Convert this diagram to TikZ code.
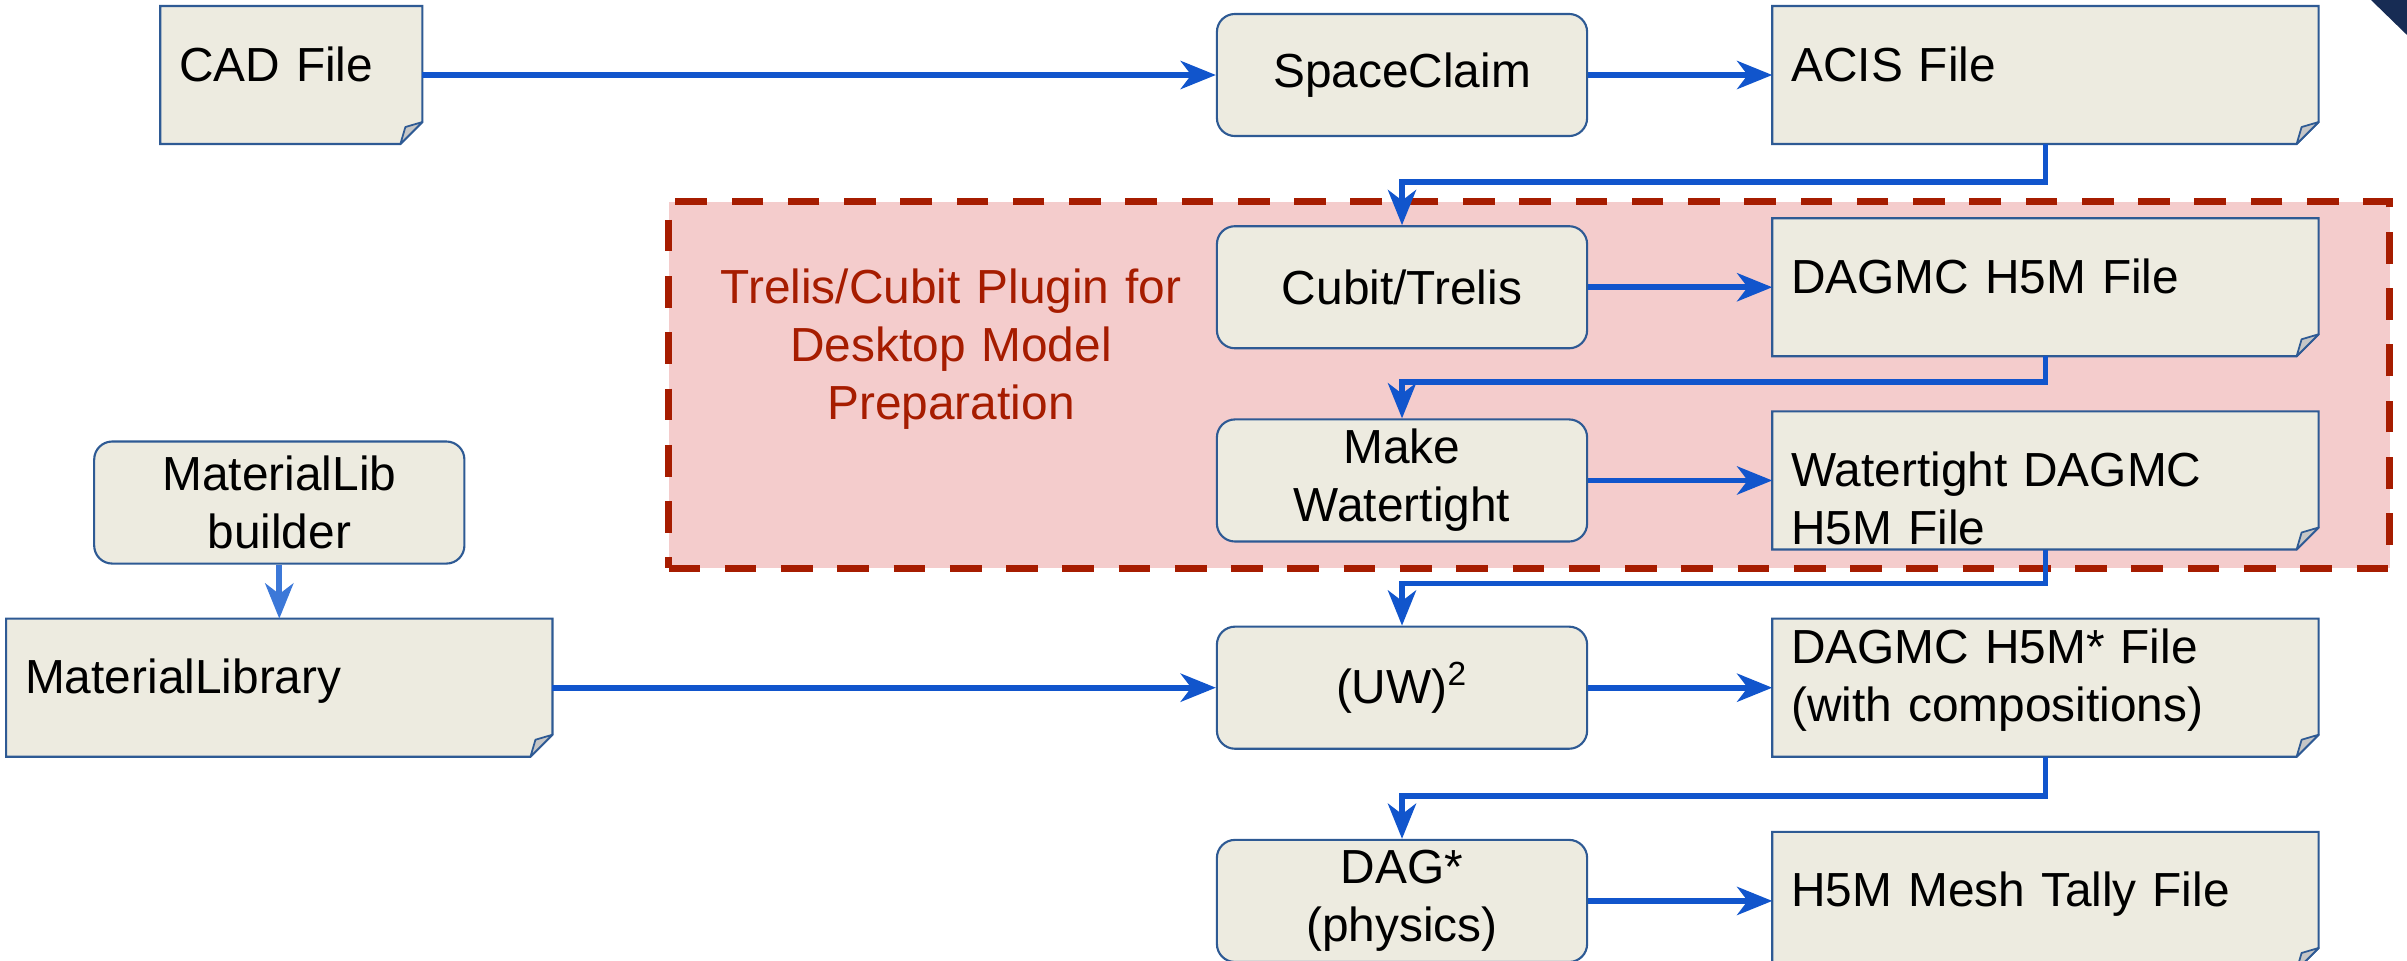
\documentclass[tikz,border=0pt]{standalone}
\usepackage{fontspec}
\setmainfont{Liberation Sans}
\usetikzlibrary{arrows.meta,positioning}

\definecolor{boxfill}{HTML}{EDEBE0}
\definecolor{boxline}{HTML}{2E5A94}
\definecolor{flowblue}{HTML}{1155CC}
\definecolor{lightflow}{HTML}{3C78D8}
\definecolor{plugfill}{HTML}{F4CCCC}
\definecolor{plugred}{HTML}{A61C00}
\definecolor{foldgray}{HTML}{C6C6C6}
\definecolor{navy}{HTML}{172C54}

\pgfdeclarelayer{back}
\pgfdeclarelayer{paper}
\pgfsetlayers{back,paper,main}

\tikzset{
  procbox/.style={draw=boxline, fill=boxfill, line width=0.6pt, rounded corners=0.18cm,
    minimum width=3.7cm, minimum height=1.22cm, text width=3.4cm, align=center, inner sep=0pt},
  filebox/.style={minimum width=5.46cm, minimum height=1.38cm, text width=5.08cm,
    inner xsep=0.19cm, inner ysep=0pt, outer sep=0pt, align=left,
    text height=0.75cm, text depth=0.63cm},
  fileedge/.style={draw=boxline, fill=boxfill, line width=0.6pt},
  filefold/.style={draw=boxline, fill=foldgray, line width=0.5pt, line join=round},
  flow/.style={draw=flowblue, line width=1.6pt, -{Stealth[length=10pt, width=8pt, inset=3pt]}},
}

\begin{document}
\begin{tikzpicture}[x=0.01cm, y=-0.01cm, node distance=0.88cm,
    every node/.style={font=\fontsize{13.6}{16.5}\selectfont}]
  \useasboundingbox (0,0) rectangle (2407,960);

  % plugin area
  \begin{pgfonlayer}{back}
    \node (plugin) [draw=plugred, fill=plugfill, line width=2pt, dash pattern=on 9pt off 7pt,
      minimum width=17.2cm, minimum height=3.66cm] at (1529,385) {};
  \end{pgfonlayer}
  \node (pluglabel) [text=plugred, text width=5cm, align=center, anchor=base] at (951,303)
    {Trelis/Cubit Plugin for\\Desktop Model\\Preparation};

  % processing steps
  \node (spaceclaim) [procbox] at (1402,75) {SpaceClaim};
  \node (cubit) [procbox, below=0.88cm of spaceclaim] {Cubit/Trelis};
  \node (watertight) [procbox, below=0.69cm of cubit] {Make\\Watertight};
  \node (uw) [procbox, below=0.83cm of watertight] {(UW)\textsuperscript{2}};
  \node (dag) [procbox, below=0.89cm of uw] {DAG*\\(physics)};

  % files
  \node (cad) [filebox, minimum width=2.62cm, text width=2.24cm, left=7.93cm of spaceclaim] {CAD File};
  \node (acis) [filebox, right=1.84cm of spaceclaim] {ACIS File};
  \node (dagmc) [filebox, right=1.84cm of cubit] {DAGMC H5M File};
  \node (wtdagmc) [filebox, right=1.84cm of watertight] {Watertight DAGMC\\H5M File};
  \node (dagmcmat) [filebox, text height=0.45cm, text depth=0.93cm, right=1.84cm of uw]
    {DAGMC H5M* File\\(with compositions)};
  \node (tally) [filebox, right=1.84cm of dag] {H5M Mesh Tally File};

  % material library
  \node (matlib) [filebox, left=6.63cm of uw] {MaterialLibrary};
  \node (builder) [procbox, above=0.54cm of matlib] {MaterialLib\\builder};

  % paper sheets behind the file texts
  \begin{pgfonlayer}{paper}
    \foreach \f in {cad,acis,dagmc,wtdagmc,dagmcmat,tally,matlib} {
      \draw[fileedge] (\f.north west) -- (\f.north east) -- ([yshift=0.22cm]\f.south east)
        -- ([xshift=-0.22cm]\f.south east) -- (\f.south west) -- cycle;
      \draw[filefold] ([yshift=0.22cm]\f.south east) -- ([shift={(-0.17cm,0.17cm)}]\f.south east)
        -- ([xshift=-0.22cm]\f.south east) -- cycle;
    }
  \end{pgfonlayer}

  \draw[flow] (cad) -- (spaceclaim);
  \draw[flow] (spaceclaim) -- (acis);
  \draw[flow] (acis.south) -- ++(0,38) -| (cubit.north);
  \draw[flow] (cubit) -- (dagmc);
  \draw[flow] (dagmc.south) -- ++(0,26) -| (watertight.north);
  \draw[flow] (watertight) -- (wtdagmc);
  \draw[flow] (wtdagmc.south) -- ++(0,34) -| (uw.north);
  \draw[flow] (matlib) -- (uw);
  \draw[flow] (uw) -- (dagmcmat);
  \draw[flow] (dagmcmat.south) -- ++(0,39) -| (dag.north);
  \draw[flow] (dag) -- (tally);
  \draw[flow, draw=lightflow] (builder) -- (matlib);

  \fill[navy] (2371,0) -- (2407,0) -- (2407,35) -- cycle;
\end{tikzpicture}
\end{document}
